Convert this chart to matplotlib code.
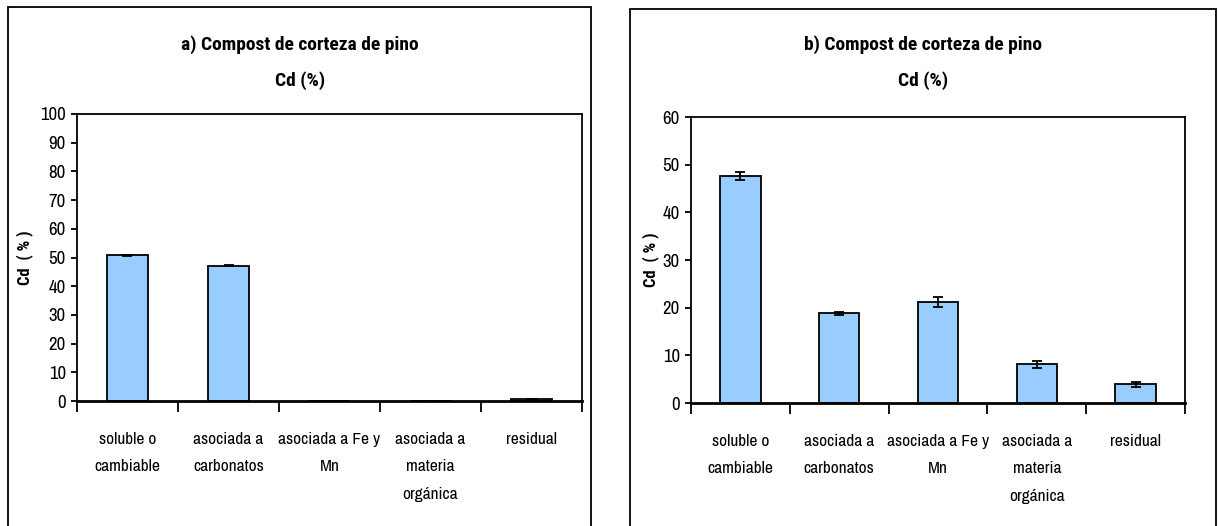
import matplotlib
matplotlib.use("Agg")
import matplotlib.pyplot as plt
from matplotlib.patches import Rectangle
import numpy as np

REG = ['Archivo Narrow', 'Liberation Sans Narrow', 'Liberation Sans', 'DejaVu Sans']
BOLD = ['Roboto Condensed', 'Liberation Sans Narrow', 'Liberation Sans', 'DejaVu Sans']
plt.rcParams['font.family'] = REG

# data
categories = ["soluble o\ncambiable", "asociada a\ncarbonatos", "asociada a Fe y\nMn",
              "asociada a\nmateria\norgánica", "residual"]
cd_a = [50.7, 47.2, 0.0, 0.0, 0.6]
err_a = [0.3, 0.3, 0.0, 0.0, 0.2]
cd_b = [47.6, 18.8, 21.2, 8.1, 3.9]
err_b = [0.9, 0.3, 1.1, 0.7, 0.6]

titles = ["a) Compost de corteza de pino", "b) Compost de corteza de pino"]
subtitle = "Cd (%)"
ylims = [100, 60]
ysteps = [10, 10]

fig = plt.figure(figsize=(12.2, 5.26), dpi=100)

# outer chart frames (figure coords)
fig.patches.append(Rectangle((0.0066, -0.05), 0.4778, 1.0367, transform=fig.transFigure,
                             fill=False, edgecolor="black", linewidth=1.3))
fig.patches.append(Rectangle((0.5164, -0.05), 0.4803, 1.033, transform=fig.transFigure,
                             fill=False, edgecolor="black", linewidth=1.3))

axes_pos = [[0.0631, 0.2376, 0.414, 0.5457], [0.5664, 0.2338, 0.405, 0.5437]]
title_x = [0.2459, 0.7566]
ylabel_x = [-0.088, -0.065]

for i, (vals, errs) in enumerate([(cd_a, err_a), (cd_b, err_b)]):
    ax = fig.add_axes(axes_pos[i])
    x = np.arange(len(categories))
    ax.bar(x, vals, width=0.41, color="#99CCFF", edgecolor="black", linewidth=1.3, zorder=2)
    ax.errorbar(x, vals, yerr=errs, fmt="none", ecolor="black", elinewidth=1.3,
                capsize=3.5, capthick=1.3, zorder=3)
    ax.set_xlim(-0.5, len(categories) - 0.5)
    ax.set_ylim(0, ylims[i])
    ax.set_yticks(np.arange(0, ylims[i] + 1, ysteps[i]))
    # major ticks at category boundaries, labels at centres
    ax.set_xticks(np.arange(-0.5, len(categories), 1.0))
    ax.set_xticklabels([])
    ax.set_xticks(x, minor=True)
    ax.set_xticklabels(categories, minor=True, fontsize=12.5, linespacing=2.05, va="top")
    ax.tick_params(axis="x", which="minor", length=0, pad=22)
    ax.tick_params(axis="x", which="major", length=8, width=1.3, direction="out")
    ax.tick_params(axis="y", length=4, width=1.3, labelsize=13.5, pad=4)
    for s in ax.spines.values():
        s.set_linewidth(1.3)
    ax.spines["bottom"].set_linewidth(2)
    ax.set_ylabel("Cd  ( % )", fontsize=12, fontweight="bold", family=BOLD)
    ax.yaxis.set_label_coords(ylabel_x[i], 0.5)
    fig.text(title_x[i], 1 - 50 / 526, titles[i], ha="center", va="baseline", fontsize=14,
             fontweight="bold", family=BOLD)
    fig.text(title_x[i], 1 - 86 / 526, subtitle, ha="center", va="baseline", fontsize=14,
             fontweight="bold", family=BOLD)

fig.savefig("out.png", dpi=100)
